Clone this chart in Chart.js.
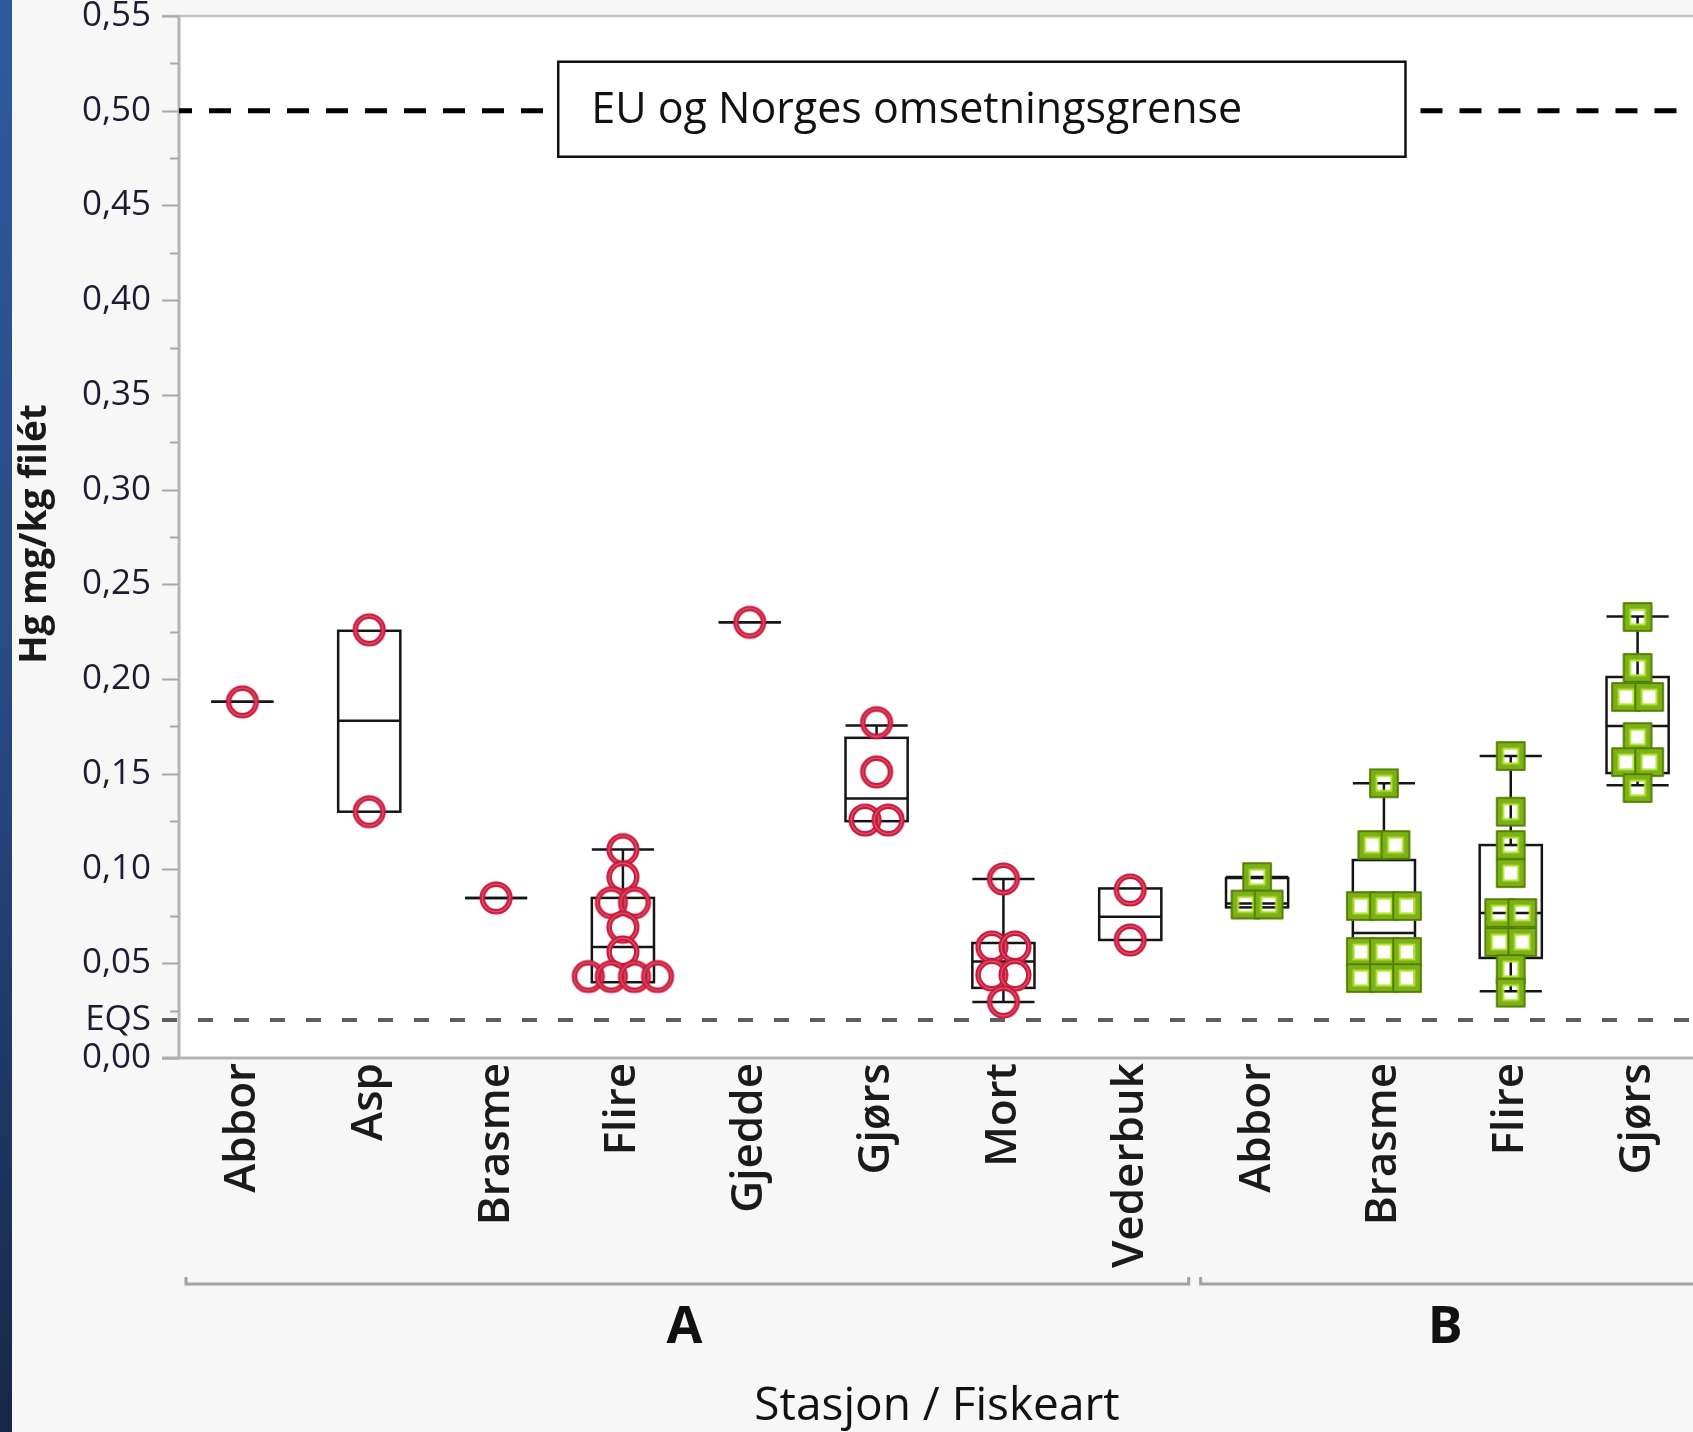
<!DOCTYPE html>
<html>
<head>
<meta charset="utf-8">
<script src="https://cdn.jsdelivr.net/npm/chart.js@4.4.1/dist/chart.umd.min.js"></script>
<style>
  html, body { margin: 0; padding: 0; background: #f7f7f7; overflow: hidden; }
  #wrap { position: relative; width: 1693px; height: 1432px; overflow: hidden; }
  #hgChart { position: absolute; left: 0; top: 0; }
</style>
</head>
<body>
<div id="wrap"><canvas id="hgChart" width="1717" height="1432"></canvas></div>
<script>
// Categories (species) and which station each belongs to
const species = ['Abbor', 'Asp', 'Brasme', 'Flire', 'Gjedde', 'Gjørs', 'Mort', 'Vederbuk',
                 'Abbor', 'Brasme', 'Flire', 'Gjørs'];
const station = ['A', 'A', 'A', 'A', 'A', 'A', 'A', 'A', 'B', 'B', 'B', 'B'];
const stationNames = ['A', 'B'];

// Hg per fish (mg/kg filét), one list per category
const hgValues = [
  [0.188],
  [0.226, 0.130],
  [0.0845],
  [0.110, 0.0955, 0.082, 0.082, 0.069, 0.056, 0.043, 0.043, 0.043, 0.043],
  [0.230],
  [0.177, 0.151, 0.1256, 0.1256],
  [0.0945, 0.0586, 0.0586, 0.0438, 0.0438, 0.0296],
  [0.0887, 0.0623],
  [0.0955, 0.081, 0.081],
  [0.145, 0.1124, 0.1124, 0.0802, 0.0802, 0.0802, 0.056, 0.056, 0.056, 0.0422, 0.0422, 0.0422],
  [0.1594, 0.130, 0.1124, 0.0976, 0.0765, 0.0765, 0.0612, 0.0612, 0.047, 0.0345],
  [0.2328, 0.2059, 0.1906, 0.1906, 0.1694, 0.1562, 0.1562, 0.1425]
];

// Box plot statistics
const boxMin    = [0.188, 0.130,  0.0845, 0.040,  0.230, 0.125, 0.0296, 0.0623, 0.0795, 0.0375, 0.0352, 0.144];
const boxQ1     = [0.188, 0.130,  0.0845, 0.040,  0.230, 0.125, 0.037,  0.0623, 0.0795, 0.0375, 0.0528, 0.1504];
const boxMedian = [0.188, 0.178,  0.0845, 0.0586, 0.230, 0.137, 0.051,  0.0745, 0.0815, 0.066,  0.0765, 0.1752];
const boxQ3     = [0.188, 0.2255, 0.0845, 0.0845, 0.230, 0.169, 0.0607, 0.0895, 0.095,  0.1045, 0.1124, 0.2011];
const boxMax    = [0.188, 0.2255, 0.0845, 0.110,  0.230, 0.1755, 0.0945, 0.0895, 0.0955, 0.145, 0.1594, 0.233];

// Axis ticks and reference lines
const yTickValues = [0, 0.05, 0.10, 0.15, 0.20, 0.25, 0.30, 0.35, 0.40, 0.45, 0.50, 0.55];
const eqsValue = 0.02;
const limitValue = 0.50;
const limitLabel = 'EU og Norges omsetningsgrense';
const yTitle = 'Hg mg/kg filét';
const xTitle = 'Stasjon / Fiskeart';

// Styling
const FONT = "'Open Sans', 'Noto Sans', sans-serif";
const JITTER = 0.182;     // side-by-side spacing of tied points (category units)
const BOX_HALF = 0.245;   // half box width (category units)

function makeCircle() {
  const c = document.createElement('canvas');
  c.width = c.height = 38;
  const g = c.getContext('2d');
  g.beginPath(); g.arc(19, 19, 13.8, 0, Math.PI * 2);
  g.lineWidth = 5.5; g.strokeStyle = '#c9183a'; g.stroke();
  g.beginPath(); g.arc(19, 19, 13.8, 0, Math.PI * 2);
  g.lineWidth = 1.3; g.strokeStyle = '#e05670'; g.stroke();
  return c;
}

function makeSquare() {
  const c = document.createElement('canvas');
  c.width = c.height = 34;
  const g = c.getContext('2d');
  g.lineWidth = 7.5; g.strokeStyle = '#7cb216'; g.strokeRect(6.25, 6.25, 21.5, 21.5);
  g.lineWidth = 1.8; g.strokeStyle = '#507b00'; g.strokeRect(3.2, 3.2, 27.6, 27.6);
  g.lineWidth = 2; g.strokeStyle = '#b2e232'; g.strokeRect(9.6, 9.6, 14.8, 14.8);
  return c;
}

// spread tied values side by side, like the original plot
function buildPoints(st) {
  const out = [];
  hgValues.forEach((vals, i) => {
    if (station[i] !== st) return;
    const rows = new Map();
    vals.forEach(v => {
      const k = v.toFixed(4);
      if (!rows.has(k)) rows.set(k, []);
      rows.get(k).push(v);
    });
    rows.forEach(row => row.forEach((v, j) => {
      out.push({ x: i + (j - (row.length - 1) / 2) * JITTER, y: v });
    }));
  });
  return out;
}

function seg(ctx, x1, y1, x2, y2) {
  ctx.beginPath(); ctx.moveTo(x1, y1); ctx.lineTo(x2, y2); ctx.stroke();
}

const hgPlugin = {
  id: 'hgPlot',
  beforeDraw(chart) {
    const { ctx, chartArea: a } = chart;
    ctx.save();
    ctx.fillStyle = '#f7f7f7';
    ctx.fillRect(0, 0, chart.width, chart.height);
    const grad = ctx.createLinearGradient(0, 0, 0, chart.height);
    grad.addColorStop(0, '#2e5a9c');
    grad.addColorStop(0.45, '#284c86');
    grad.addColorStop(1, '#19264a');
    ctx.fillStyle = grad;
    ctx.fillRect(0, 0, 12, chart.height);
    ctx.fillStyle = '#ffffff';
    ctx.fillRect(a.left, a.top, a.right - a.left, a.bottom - a.top);
    ctx.restore();
  },
  beforeDatasetsDraw(chart) {
    const { ctx, chartArea: a, scales: { x, y } } = chart;
    ctx.save();
    // axis frame
    ctx.strokeStyle = '#b3b3b3';
    ctx.lineWidth = 3;
    seg(ctx, a.left, a.top, a.left, a.bottom);
    seg(ctx, a.left - 17, a.bottom, a.right, a.bottom);
    ctx.lineWidth = 2.5;
    ctx.strokeStyle = '#c2c2c2';
    seg(ctx, a.left - 17, a.top, a.right, a.top);
    // ticks
    ctx.strokeStyle = '#a8a8a8';
    ctx.lineWidth = 2;
    yTickValues.forEach(v => {
      const py = Math.round(y.getPixelForValue(v)) + 0.5;
      seg(ctx, a.left - 17, py, a.left, py);
    });
    for (let k = 0; k < yTickValues.length - 1; k++) {
      const py = Math.round(y.getPixelForValue((yTickValues[k] + yTickValues[k + 1]) / 2)) + 0.5;
      seg(ctx, a.left - 9, py, a.left, py);
    }
    // EQS line
    ctx.strokeStyle = '#5e5e5e';
    ctx.lineWidth = 4;
    ctx.setLineDash([15, 21]);
    const eqY = y.getPixelForValue(eqsValue);
    seg(ctx, a.left - 17, eqY, a.right, eqY);
    // limit line (interrupted by the label box)
    ctx.strokeStyle = '#000';
    ctx.lineWidth = 5;
    ctx.setLineDash([22, 17]);
    const limY = y.getPixelForValue(limitValue);
    const boxL = x.getPixelForValue(2.49), boxR = x.getPixelForValue(9.17);
    ctx.lineDashOffset = 9;
    seg(ctx, a.left, limY, boxL - 10, limY);
    ctx.lineDashOffset = 0;
    seg(ctx, boxR + 15, limY, a.right, limY);
    ctx.setLineDash([]);
    // box plots
    const unit = x.getPixelForValue(1) - x.getPixelForValue(0);
    const hw = BOX_HALF * unit;
    ctx.strokeStyle = '#151515';
    ctx.lineWidth = 2.5;
    species.forEach((s, i) => {
      const px = x.getPixelForValue(i);
      const yMin = y.getPixelForValue(boxMin[i]);
      const yQ1 = y.getPixelForValue(boxQ1[i]);
      const yMed = y.getPixelForValue(boxMedian[i]);
      const yQ3 = y.getPixelForValue(boxQ3[i]);
      const yMax = y.getPixelForValue(boxMax[i]);
      if (boxMax[i] > boxQ3[i]) {
        seg(ctx, px, yQ3, px, yMax);
        seg(ctx, px - hw, yMax, px + hw, yMax);
      }
      if (boxMin[i] < boxQ1[i]) {
        seg(ctx, px, yQ1, px, yMin);
        seg(ctx, px - hw, yMin, px + hw, yMin);
      }
      ctx.strokeRect(px - hw, yQ3, 2 * hw, yQ1 - yQ3);
      seg(ctx, px - hw, yMed, px + hw, yMed);
    });
    ctx.restore();
  },
  afterDatasetsDraw(chart) {
    const { ctx, scales: { x, y } } = chart;
    const limY = y.getPixelForValue(limitValue);
    const boxL = x.getPixelForValue(2.49), boxR = x.getPixelForValue(9.17);
    ctx.save();
    ctx.fillStyle = '#fff';
    ctx.fillRect(boxL, limY - 49, boxR - boxL, 95);
    ctx.strokeStyle = '#111';
    ctx.lineWidth = 2.5;
    ctx.strokeRect(boxL, limY - 49, boxR - boxL, 95);
    ctx.fillStyle = '#111';
    ctx.font = '43px ' + FONT;
    ctx.textAlign = 'left';
    ctx.textBaseline = 'alphabetic';
    ctx.fillText(limitLabel, boxL + 33, limY + 12);
    ctx.restore();
  },
  afterDraw(chart) {
    const { ctx, chartArea: a, scales: { x } } = chart;
    ctx.save();
    // y title
    ctx.fillStyle = '#1a1a1a';
    ctx.font = 'bold 37px ' + FONT;
    ctx.textAlign = 'center';
    ctx.textBaseline = 'middle';
    ctx.translate(35, (a.top + a.bottom) / 2 - 3);
    ctx.rotate(-Math.PI / 2);
    ctx.fillText(yTitle, 0, 0);
    ctx.restore();

    // station brackets and names
    ctx.save();
    ctx.strokeStyle = '#a3a3a3';
    ctx.lineWidth = 3;
    const by = a.bottom + 226;
    stationNames.forEach(st => {
      const idx = station.map((s, i) => s === st ? i : -1).filter(i => i >= 0);
      const l = x.getPixelForValue(idx[0] - 0.5) + 7;
      const r = Math.min(x.getPixelForValue(idx[idx.length - 1] + 0.5) - 5, a.right);
      ctx.beginPath();
      ctx.moveTo(l, by - 7); ctx.lineTo(l, by); ctx.lineTo(r, by); ctx.lineTo(r, by - 7);
      ctx.stroke();
      ctx.fillStyle = '#111';
      ctx.font = 'bold 52px ' + FONT;
      ctx.textAlign = 'center';
      ctx.textBaseline = 'alphabetic';
      ctx.fillText(st, (l + r) / 2 - 3, by + 59);
    });
    // x title
    ctx.fillStyle = '#111';
    ctx.font = '46px ' + FONT;
    ctx.textAlign = 'center';
    ctx.fillText(xTitle, (a.left + a.right) / 2 - 3, a.bottom + 362);
    ctx.restore();
  }
};

new Chart(document.getElementById('hgChart'), {
  type: 'scatter',
  data: {
    datasets: [
      { label: 'Stasjon A', data: buildPoints('A'), pointStyle: makeCircle(), pointRadius: 15, pointHoverRadius: 15 },
      { label: 'Stasjon B', data: buildPoints('B'), pointStyle: makeSquare(), pointRadius: 15, pointHoverRadius: 15 }
    ]
  },
  options: {
    responsive: false,
    animation: false,
    layout: { padding: { top: 16, right: 2, left: 0, bottom: 0 } },
    plugins: { legend: { display: false }, tooltip: { enabled: false } },
    scales: {
      x: {
        type: 'linear',
        min: -0.5,
        max: species.length - 0.5,
        afterBuildTicks: s => { s.ticks = species.map((_, i) => ({ value: i })); },
        afterFit: s => { s.height = 374; s.paddingLeft = 0; s.paddingRight = 0; },
        grid: { display: false, drawTicks: false },
        border: { display: false },
        ticks: {
          autoSkip: false,
          minRotation: 90,
          maxRotation: 90,
          padding: 5,
          color: '#1b1b1b',
          font: { family: FONT, size: 44, weight: '600' },
          callback: v => species[v]
        }
      },
      y: {
        min: 0,
        max: 0.55,
        afterBuildTicks: s => { s.ticks = yTickValues.concat([eqsValue]).map(v => ({ value: v })); },
        afterFit: s => { s.width = 179; s.paddingTop = 0; s.paddingBottom = 0; },
        grid: { display: false, drawTicks: false },
        border: { display: false },
        ticks: {
          autoSkip: false,
          padding: 28,
          color: '#1c1c30',
          font: { family: FONT, size: 35, weight: '500' },
          callback: v => v === eqsValue ? 'EQS' : v.toFixed(2).replace('.', ',')
        }
      }
    }
  },
  plugins: [hgPlugin]
});
</script>
</body>
</html>
